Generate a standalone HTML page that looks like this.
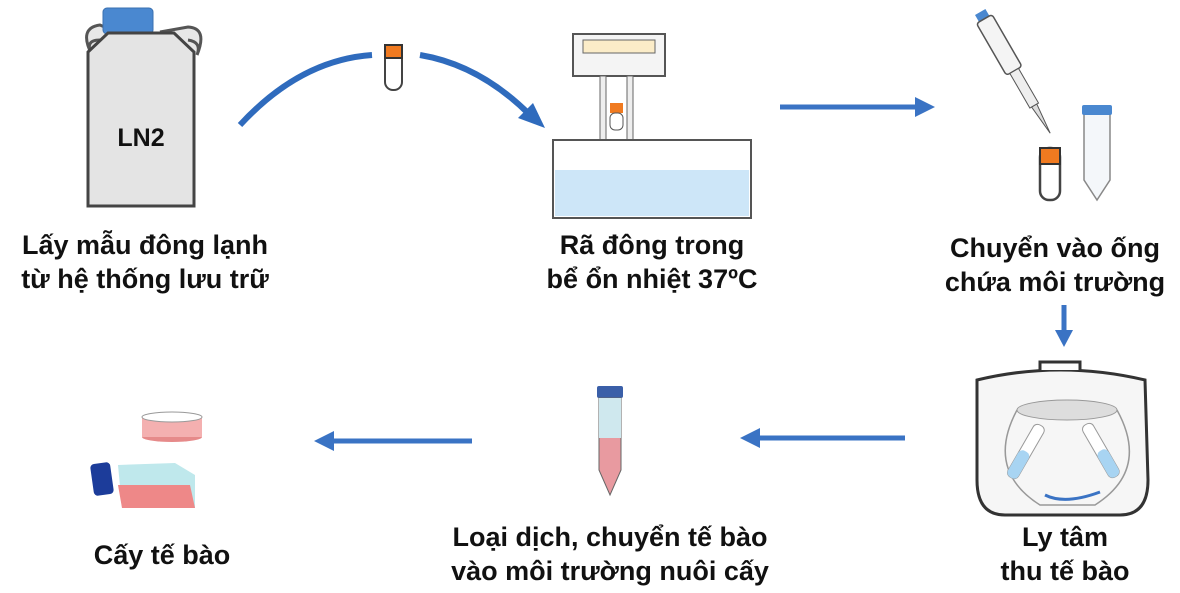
<!DOCTYPE html>
<html><head><meta charset="utf-8"><style>
body{margin:0;background:#fff;width:1180px;height:593px;overflow:hidden;position:relative;font-family:"Liberation Sans",sans-serif}
.l{position:absolute;font-weight:bold;font-size:27px;color:#111;text-align:center;line-height:34px;white-space:nowrap;transform:translateX(-50%)}
svg{position:absolute;left:0;top:0}
</style></head><body>
<svg width="1180" height="593" viewBox="0 0 1180 593">
<!-- LN2 -->
<path d="M92,55 Q78,28 100,25 L116,32 M92,55 Q84,40 100,40 M197,55 Q208,28 188,27 L160,32 M197,55 Q202,42 188,40" stroke="#555" stroke-width="3" fill="#e8e8e8"/>
<rect x="103" y="8" width="50" height="26" rx="4" fill="#4a88d0" stroke="#3a70b0"/>
<path d="M88,52 L108,33 L174,33 L194,52 L194,206 L88,206 Z" fill="#e4e4e4" stroke="#444" stroke-width="3"/>
<text x="141" y="146" font-family="Liberation Sans" font-weight="bold" font-size="25" text-anchor="middle" fill="#111">LN2</text>
<!-- curved arrow -->
<path d="M240,125 Q300,60 372,55" stroke="#2f6bbd" stroke-width="6" fill="none"/>
<path d="M420,55 Q480,65 530,115" stroke="#2f6bbd" stroke-width="6" fill="none"/>
<path d="M545,128 L518,118 L533,103 Z" fill="#2f6bbd"/>
<rect x="385" y="47" width="17" height="43" rx="8" fill="#fff" stroke="#444" stroke-width="2"/>
<rect x="385" y="45" width="17" height="13" fill="#f07a20" stroke="#333" stroke-width="2"/>
<!-- water bath -->
<rect x="573" y="34" width="92" height="42" fill="#f4f4f4" stroke="#555" stroke-width="2"/>
<rect x="583" y="40" width="72" height="13" fill="#fbecc8" stroke="#666"/>
<rect x="600" y="76" width="6" height="64" fill="#eee" stroke="#666"/>
<rect x="627" y="76" width="6" height="64" fill="#eee" stroke="#666"/>
<rect x="610" y="103" width="13" height="10" fill="#f07a20"/>
<rect x="610" y="113" width="13" height="17" rx="5" fill="#fff" stroke="#555"/>
<rect x="553" y="140" width="198" height="78" fill="#fff" stroke="#555" stroke-width="2"/>
<rect x="555" y="170" width="194" height="46" fill="#cde6f8"/>
<!-- right arrow -->
<line x1="780" y1="107" x2="918" y2="107" stroke="#3a73c4" stroke-width="5"/>
<path d="M935,107 L915,97 L915,117 Z" fill="#3a73c4"/>
<!-- pipette -->
<g transform="translate(975,15) rotate(-30)">
<rect x="0" y="0" width="12" height="8" fill="#4a88d0"/>
<rect x="-3" y="8" width="18" height="60" rx="3" fill="#f4f4f4" stroke="#555" stroke-width="1.5"/>
<rect x="1" y="68" width="10" height="40" fill="#eee" stroke="#555"/>
<path d="M3,108 L9,108 L6,140 Z" fill="#ddd" stroke="#555"/>
</g>
<rect x="1040" y="148" width="20" height="52" rx="9" fill="#fff" stroke="#444" stroke-width="2.5"/>
<rect x="1040" y="148" width="20" height="16" fill="#f07a20" stroke="#333" stroke-width="2"/>
<path d="M1084,112 L1110,112 L1110,180 L1097,200 L1084,180 Z" fill="#f4f7fa" stroke="#888" stroke-width="1.5"/>
<rect x="1082" y="105" width="30" height="10" rx="2" fill="#4a88d0"/>
<!-- down arrow -->
<line x1="1064" y1="305" x2="1064" y2="332" stroke="#3a73c4" stroke-width="5"/>
<path d="M1064,347 L1055,330 L1073,330 Z" fill="#3a73c4"/>
<!-- centrifuge -->
<path d="M977,380 Q1060,360 1145,380 L1148,480 Q1148,515 1120,515 L1005,515 Q977,515 977,480 Z" fill="#f6f6f6" stroke="#333" stroke-width="3"/>
<path d="M1040,370 L1040,362 L1080,362 L1080,370" stroke="#333" stroke-width="3" fill="#fff"/>
<ellipse cx="1067" cy="410" rx="50" ry="10" fill="#ddd" stroke="#999"/>
<path d="M1017,410 Q985,470 1040,505 L1095,505 Q1150,470 1117,410" fill="none" stroke="#999" stroke-width="1.5"/>
<g transform="translate(1040,425) rotate(30)"><rect x="-5" y="0" width="12" height="60" rx="5" fill="#fff" stroke="#999"/><rect x="-5" y="30" width="12" height="30" rx="5" fill="#a8d4f2"/></g>
<g transform="translate(1085,425) rotate(-30)"><rect x="-5" y="0" width="12" height="60" rx="5" fill="#fff" stroke="#999"/><rect x="-5" y="30" width="12" height="30" rx="5" fill="#a8d4f2"/></g>
<path d="M1045,495 Q1065,505 1100,492" stroke="#3a73c4" stroke-width="3" fill="none"/>
<!-- left arrows -->
<line x1="905" y1="438" x2="758" y2="438" stroke="#3a73c4" stroke-width="5"/>
<path d="M740,438 L760,428 L760,448 Z" fill="#3a73c4"/>
<line x1="472" y1="441" x2="332" y2="441" stroke="#3a73c4" stroke-width="5"/>
<path d="M314,441 L334,431 L334,451 Z" fill="#3a73c4"/>
<!-- pink tube -->
<rect x="597" y="386" width="26" height="12" rx="2" fill="#3a5fa8"/>
<path d="M599,398 L621,398 L621,470 L610,495 L599,470 Z" fill="#e89aa0" stroke="#666"/>
<rect x="599" y="398" width="22" height="40" fill="#cfe8ee"/>
<!-- dish & flask -->
<ellipse cx="172" cy="437" rx="30" ry="5" fill="#e68a8a"/>
<rect x="142" y="417" width="60" height="20" fill="#f4b0b0"/>
<ellipse cx="172" cy="417" rx="30" ry="5" fill="#fff" stroke="#999"/>
<path d="M118,465 L175,463 L195,475 L195,508 L122,508 Z" fill="#bfe8ec"/>
<path d="M118,485 L190,485 L195,508 L122,508 Z" fill="#ee8888"/>
<rect x="92" y="463" width="20" height="32" rx="4" fill="#1c3c9a" transform="rotate(-8 102 479)"/>
</svg>
<div class="l" style="left:145px;top:228px">Lấy mẫu đông lạnh<br>từ hệ thống lưu trữ</div>
<div class="l" style="left:652px;top:228px">Rã đông trong<br>bể ổn nhiệt 37ºC</div>
<div class="l" style="left:1055px;top:231px">Chuyển vào ống<br>chứa môi trường</div>
<div class="l" style="left:1065px;top:520px">Ly tâm<br>thu tế bào</div>
<div class="l" style="left:610px;top:520px">Loại dịch, chuyển tế bào<br>vào môi trường nuôi cấy</div>
<div class="l" style="left:162px;top:538px">Cấy tế bào</div>
</body></html>
